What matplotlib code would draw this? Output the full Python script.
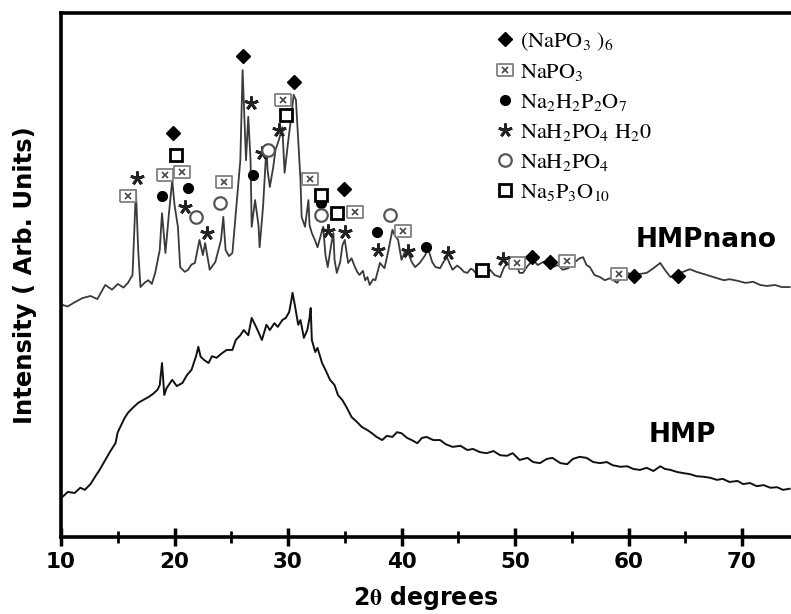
import numpy as np
import matplotlib.pyplot as plt
from matplotlib.ticker import MultipleLocator

plt.rcParams['mathtext.fontset'] = 'stix'

# XRD patterns (2theta in degrees, intensity in arb. units)
nano_2t = [10.1, 10.6, 11.2, 11.9, 12.6, 13.2, 13.9, 14.5, 15.0, 15.5, 15.9, 16.3, 16.6, 16.8, 17.0,
           17.4, 17.7, 18.0, 18.3, 18.7, 18.9, 19.2, 19.5, 19.8, 20.0, 20.3, 20.5, 20.9, 21.2, 21.5,
           21.8, 22.2, 22.5, 22.7, 23.1, 23.6, 23.8, 24.1, 24.3, 24.5, 24.8, 25.1, 25.5, 25.8, 26.0,
           26.3, 26.5, 26.7, 26.8, 27.1, 27.4, 27.5, 27.8, 28.1, 28.2, 28.4, 28.7, 28.9, 29.2, 29.5,
           29.7, 30.0, 30.3, 30.5, 30.7, 30.9, 31.1, 31.2, 31.5, 31.8, 31.9, 32.1, 32.4, 32.6, 32.9,
           33.1, 33.3, 33.5, 33.8, 34.0, 34.1, 34.3, 34.6, 34.8, 35.0, 35.3, 35.6, 35.9, 36.1, 36.3,
           36.6, 36.8, 37.0, 37.2, 37.5, 37.7, 38.1, 38.5, 38.8, 39.2, 39.4, 39.7, 40.0, 40.3, 40.6,
           40.9, 41.2, 41.6, 42.1, 42.3, 42.7, 43.0, 43.4, 43.7, 44.0, 44.3, 44.5, 44.9, 45.2, 45.5,
           45.8, 46.1, 46.3, 46.6, 46.9, 47.4, 47.8, 48.2, 48.7, 49.0, 49.3, 49.7, 50.2, 50.4, 50.7,
           51.1, 51.6, 52.0, 52.5, 52.8, 53.3, 53.8, 54.2, 54.7, 55.3, 55.7, 56.0, 56.3, 56.6, 57.0,
           57.5, 57.9, 58.4, 59.0, 59.4, 59.9, 60.4, 61.0, 61.6, 62.2, 62.8, 63.2, 63.7, 64.2, 64.8,
           65.4, 66.0, 66.6, 67.2, 67.8, 68.4, 68.9, 69.6, 70.3, 71.0, 71.6, 72.2, 72.9, 73.5, 74.2]
nano_int = [44.3, 44.0, 44.8, 45.6, 46.0, 45.4, 48.1, 47.2, 48.3, 47.6, 48.5, 50.0, 66.2, 54.8, 47.7,
            48.6, 49.0, 48.3, 50.4, 54.8, 61.8, 54.2, 61.5, 68.1, 63.4, 59.2, 51.5, 50.6, 51.0, 52.0,
            52.3, 56.7, 53.8, 56.1, 51.0, 52.5, 54.2, 56.7, 61.1, 54.8, 53.6, 54.2, 64.3, 71.9, 89.1,
            71.9, 80.2, 71.9, 59.2, 64.3, 59.5, 55.3, 63.0, 74.4, 70.0, 66.8, 70.6, 73.9, 75.8, 78.2,
            69.5, 75.2, 80.5, 84.4, 83.4, 75.8, 68.1, 61.1, 59.2, 64.3, 59.5, 58.0, 56.5, 55.3, 57.6,
            59.2, 53.8, 51.5, 55.7, 58.0, 52.9, 50.4, 52.5, 55.7, 56.7, 52.3, 53.2, 51.5, 50.6, 50.0,
            50.8, 49.0, 49.6, 48.1, 49.2, 49.0, 52.3, 51.3, 54.2, 58.6, 57.6, 56.7, 52.9, 54.4, 54.2,
            52.5, 51.5, 52.3, 53.8, 55.3, 52.5, 51.5, 51.3, 52.5, 53.4, 51.9, 51.0, 51.8, 51.3, 50.6,
            50.4, 51.2, 51.0, 50.2, 49.6, 50.6, 51.0, 50.0, 49.6, 51.3, 52.3, 51.3, 51.5, 50.4, 50.4,
            51.7, 52.9, 51.9, 52.5, 52.3, 51.5, 51.9, 51.0, 51.3, 52.5, 53.2, 53.4, 51.9, 51.5, 50.0,
            49.6, 49.0, 49.4, 48.5, 49.8, 50.4, 50.0, 50.2, 50.4, 51.3, 52.3, 51.0, 49.6, 50.0, 50.6,
            51.1, 50.6, 50.2, 49.8, 49.4, 49.0, 49.2, 48.9, 48.5, 48.7, 48.1, 47.9, 48.1, 47.7, 47.7]

hmp_2t = [10.1, 10.6, 11.2, 11.7, 12.1, 12.6, 13.0, 13.4, 13.9, 14.3, 14.8, 15.0, 15.4, 15.6, 15.9,
          16.3, 16.8, 17.2, 17.7, 18.1, 18.5, 18.7, 18.9, 19.1, 19.3, 19.8, 20.2, 20.7, 21.1, 21.5,
          21.9, 22.1, 22.3, 22.6, 23.0, 23.3, 23.7, 24.2, 24.6, 25.1, 25.4, 25.8, 26.1, 26.5, 26.8,
          27.1, 27.4, 27.7, 28.1, 28.4, 28.8, 29.1, 29.5, 29.8, 30.1, 30.3, 30.4, 30.6, 30.9, 31.1,
          31.4, 31.7, 31.9, 32.0, 32.1, 32.4, 32.6, 33.0, 33.3, 33.7, 34.1, 34.4, 34.8, 35.2, 35.6,
          36.1, 36.5, 37.0, 37.4, 37.8, 38.3, 38.7, 39.2, 39.6, 40.0, 40.5, 40.9, 41.4, 41.8, 42.2,
          42.8, 43.4, 43.9, 44.5, 45.2, 45.8, 46.3, 46.9, 47.5, 48.1, 48.7, 49.3, 49.8, 50.4, 51.1,
          51.6, 52.2, 52.8, 53.3, 54.0, 54.6, 55.1, 55.7, 56.3, 56.9, 57.5, 58.1, 58.6, 59.3, 59.9,
          60.4, 61.0, 61.6, 62.2, 62.8, 63.2, 63.7, 64.3, 64.8, 65.4, 66.0, 66.6, 67.2, 67.8, 68.3,
          68.9, 69.6, 70.1, 70.7, 71.3, 71.9, 72.5, 73.1, 73.6, 74.2]
hmp_int = [7.6, 8.6, 8.4, 9.4, 9.0, 10.1, 11.5, 12.8, 14.7, 16.2, 17.9, 20.0, 21.8, 22.7, 23.7,
           24.6, 25.6, 26.1, 26.7, 27.3, 28.1, 29.0, 33.2, 27.1, 28.4, 30.0, 28.8, 29.4, 30.9, 31.9,
           34.5, 36.3, 34.4, 33.8, 33.2, 34.5, 34.2, 35.1, 35.7, 35.7, 37.6, 38.5, 39.5, 38.5, 41.8,
           40.5, 39.1, 37.6, 40.5, 39.5, 40.8, 40.1, 41.4, 41.8, 42.9, 45.2, 46.6, 44.3, 40.5, 41.4,
           38.0, 39.5, 41.8, 43.7, 37.6, 35.3, 36.1, 33.2, 31.9, 30.0, 29.0, 27.1, 26.1, 24.6, 22.9,
           21.9, 21.0, 20.4, 19.8, 19.1, 18.5, 19.3, 19.1, 20.0, 19.8, 18.9, 18.5, 17.9, 18.9, 19.1,
           18.5, 18.5, 17.7, 17.2, 17.4, 16.6, 16.8, 16.2, 16.0, 16.4, 15.6, 15.5, 16.0, 14.7, 15.1,
           14.3, 14.1, 14.9, 15.1, 14.1, 13.9, 14.9, 15.3, 15.1, 14.3, 14.1, 14.3, 13.7, 13.4, 13.5,
           13.0, 12.8, 13.2, 12.6, 13.5, 13.0, 12.8, 12.4, 12.2, 12.0, 11.6, 11.5, 11.3, 10.9, 11.1,
           10.5, 10.7, 10.1, 10.3, 9.7, 9.9, 9.4, 9.5, 9.0, 9.2]

# phase assignment markers (2theta, label height)
napo3_6_2t = [19.9, 26.0, 30.5, 34.9, 51.5, 53.1, 60.5, 64.4]
napo3_6_h = [77.1, 91.8, 86.8, 66.4, 53.4, 52.5, 49.8, 49.8]
napo3_2t = [15.9, 19.2, 20.7, 24.4, 29.6, 31.9, 35.9, 40.1, 50.2, 54.6, 59.2]
napo3_h = [65.1, 69.1, 69.7, 67.8, 83.4, 68.3, 62.0, 58.4, 52.3, 52.7, 50.2]
na2h2p2o7_2t = [18.9, 21.2, 26.9, 32.9, 37.8, 42.2]
na2h2p2o7_h = [65.1, 66.6, 69.1, 63.7, 58.2, 55.3]
nah2po4_h2o_2t = [16.7, 20.9, 22.9, 26.7, 27.7, 29.2, 33.5, 35.0, 37.9, 40.6, 44.1, 48.9]
nah2po4_h2o_h = [68.5, 63.0, 58.0, 82.8, 73.3, 77.7, 58.4, 58.2, 54.8, 54.6, 54.2, 53.0]
nah2po4_2t = [21.9, 24.0, 28.2, 32.9, 39.0]
nah2po4_h = [61.1, 63.7, 73.9, 61.5, 61.5]
na5p3o10_2t = [20.1, 29.8, 32.9, 34.3, 47.1]
na5p3o10_h = [72.9, 80.5, 65.3, 61.8, 51.0]

fig = plt.figure(figsize=(7.91, 6.14), dpi=100)
ax = fig.add_axes([61/791, 77/614, 730/791, 524/614])

ax.plot(nano_2t, nano_int, color='#3a3a3a', lw=1.3, zorder=2)
ax.plot(hmp_2t, hmp_int, color='#111111', lw=1.4, zorder=2)

# markers
hd, = ax.plot(napo3_6_2t, napo3_6_h, 'D', color='black', ms=7.5, ls='none', zorder=4)
box = [(-1.3, -1), (1.3, -1), (1.3, 1), (-1.3, 1), (-1.3, -1)]
hb1, = ax.plot(napo3_2t, napo3_h, marker=box, ls='none', ms=12, mfc='white', mec='#808080', mew=1.3, zorder=4)
hb2, = ax.plot(napo3_2t, napo3_h, 'x', ls='none', ms=4.5, color='#444444', mew=1.2, zorder=5)
hf, = ax.plot(na2h2p2o7_2t, na2h2p2o7_h, 'o', color='black', ms=7, ls='none', zorder=4)
hs, = ax.plot(nah2po4_h2o_2t, nah2po4_h2o_h, marker=(5, 2, 0), ls='none', ms=10, color='#222222', mew=2, zorder=4)
ho, = ax.plot(nah2po4_2t, nah2po4_h, 'o', ls='none', ms=9, mfc='white', mec='#555555', mew=1.6, zorder=4)
hq, = ax.plot(na5p3o10_2t, na5p3o10_h, 's', ls='none', ms=8, mfc='white', mec='black', mew=2, zorder=4)

labels = [r'$\mathrm{(NaPO_3\ )_6}$', r'$\mathrm{NaPO_3}$', r'$\mathrm{Na_2H_2P_2O_7}$',
          r'$\mathrm{NaH_2PO_4\ H_20}$', r'$\mathrm{NaH_2PO_4}$', r'$\mathrm{Na_5P_3O_{10}}$']
ax.legend([hd, (hb1, hb2), hf, hs, ho, hq], labels, loc='upper left',
          bbox_to_anchor=(496/791, 1 - 30/614), bbox_transform=fig.transFigure,
          frameon=False, fontsize=16, handlelength=0.8, handletextpad=0.3,
          labelspacing=0.41, borderpad=0, borderaxespad=0)

fig.text(706/791, 1 - 240/614, 'HMPnano', fontsize=19, fontweight='bold', ha='center', va='center')
fig.text(682/791, 1 - 435/614, 'HMP', fontsize=19, fontweight='bold', ha='center', va='center')

ax.set_xlim(10, 10 + 730/11.35)
ax.set_ylim(0, 100)
ax.set_yticks([])
ax.xaxis.set_major_locator(MultipleLocator(10))
ax.xaxis.set_minor_locator(MultipleLocator(5))
ax.tick_params(axis='x', which='major', direction='inout', length=13, width=2.5, pad=4,
               labelsize=15.5)
ax.tick_params(axis='x', which='minor', direction='inout', length=8, width=2)
for lab in ax.get_xticklabels():
    lab.set_fontweight('bold')
ax.spines['right'].set_visible(False)
for s in ['left', 'top', 'bottom']:
    ax.spines[s].set_linewidth(2.6)

ax.set_xlabel(r'2$\mathbf{\theta}$ degrees', fontsize=17, fontweight='bold', labelpad=9)
ax.set_ylabel('Intensity ( Arb. Units)', fontsize=17.5, fontweight='bold', labelpad=17)

fig.savefig('out.png', dpi=100)
